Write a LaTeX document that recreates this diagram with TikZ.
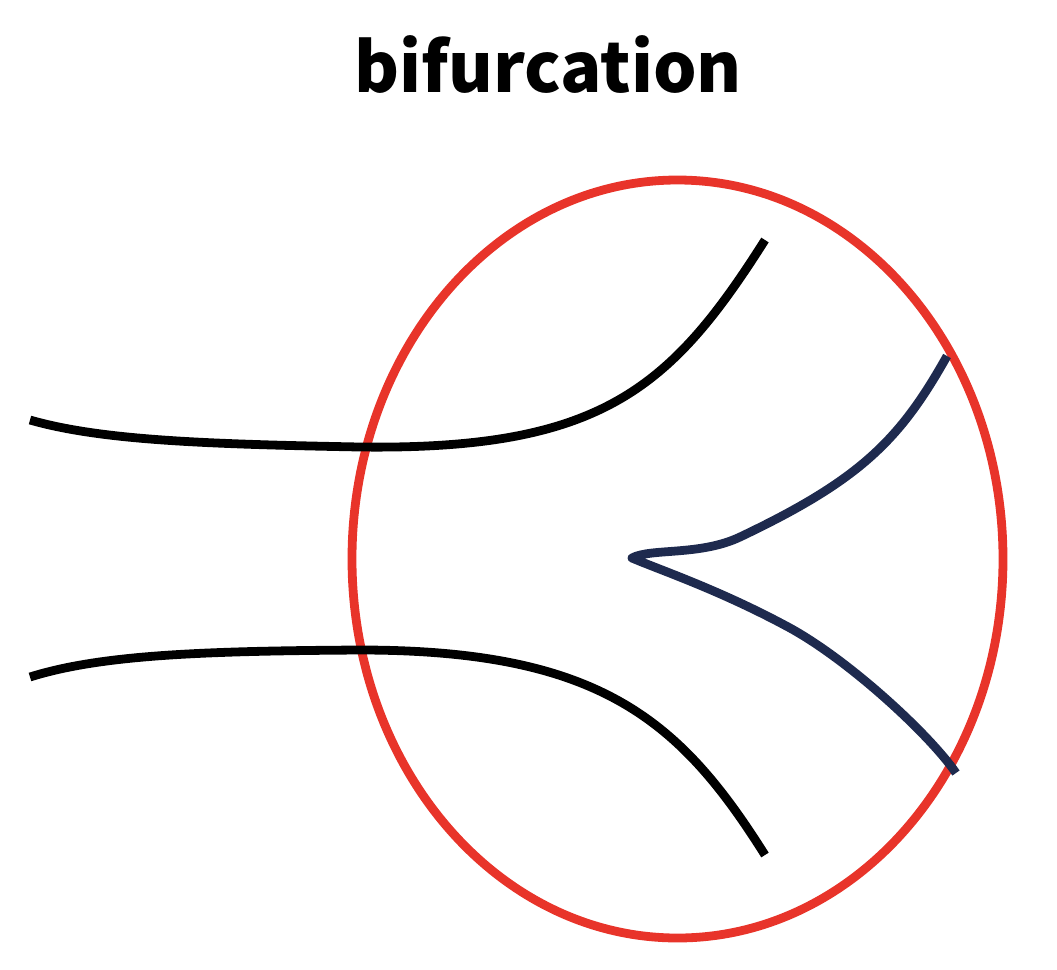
\documentclass[tikz,border=0pt]{standalone}
\usepackage{fontspec}
\newfontfamily\titlefont{Noto Sans CJK JP}
\definecolor{ringred}{HTML}{E8342A}
\definecolor{branchnavy}{HTML}{1E2A4E}
\begin{document}
\begin{tikzpicture}[x=0.01cm, y=-0.01cm, vessel/.style={line width=2.5pt}]
	\useasboundingbox (0,0) rectangle (1057,969);
	\node[anchor=base, inner sep=0] at (548,92) (title) {\titlefont\bfseries\fontsize{19.5}{23}\selectfont bifurcation};

	\draw [vessel, ringred] (677.5,559) ellipse [x radius=325.5, y radius=379];

	\draw [vessel] (30,420) .. controls (100,440) and (200,444) .. (360,447)
		.. controls (600,450) and (670,390) .. (765,240);
	\draw [vessel] (30,677) .. controls (100,655) and (200,651) .. (360,650)
		.. controls (600,650) and (680,720) .. (765,855);

	\draw [vessel, branchnavy, line join=round] (947,356) .. controls (900,440) and (860,480) .. (740,537)
		.. controls (700,556) and (650,548) .. (632,558)
		.. controls (660,570) and (720,590) .. (790,628)
		.. controls (850,661) and (930,735) .. (956,773);
\end{tikzpicture}
\end{document}
